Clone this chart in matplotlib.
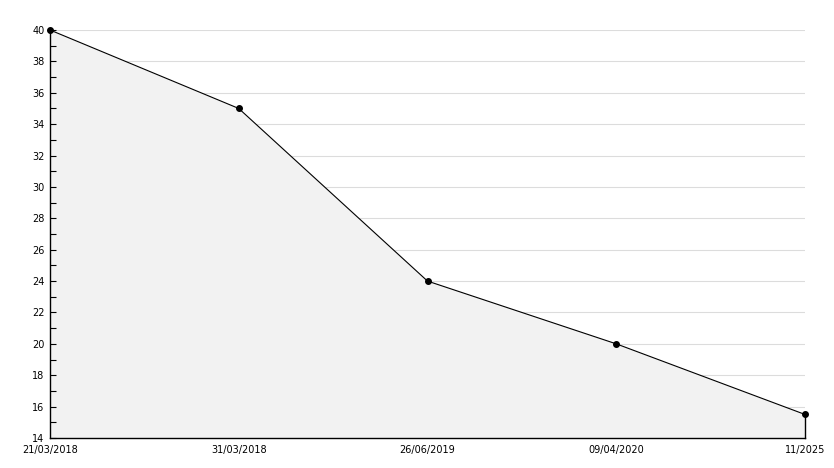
import matplotlib.pyplot as plt
from matplotlib.ticker import MultipleLocator

dates = ["21/03/2018", "31/03/2018", "26/06/2019", "09/04/2020", "11/2025"]
values = [40, 35, 24, 20, 15.5]

ymin, ymax = 14, 40
x = list(range(len(dates)))

fig = plt.figure(figsize=(8.34, 4.68), dpi=100)
ax = fig.add_axes([50 / 834, 30 / 468, 755 / 834, 408 / 468])

ax.set_xlim(x[0], x[-1])
ax.set_ylim(ymin, ymax)
ax.yaxis.set_major_locator(MultipleLocator(2))
ax.yaxis.set_minor_locator(MultipleLocator(1))

# gridlines under the filled area, ticks stay on top
ax.hlines(ax.get_yticks(), x[0], x[-1], color="#dcdcdc", linewidth=0.8, zorder=0.5)

ax.fill_between(x, values, ymin, color="#f2f2f2", zorder=1, linewidth=0)
ax.plot(x, values, color="black", linewidth=0.8, marker="o", markersize=4, zorder=3, clip_on=False)
ax.plot([x[-1], x[-1]], [ymin, values[-1]], color="black", linewidth=1.0, zorder=3, clip_on=False)

ax.set_xticks(x)
ax.set_xticklabels(dates)

for s in ["top", "right"]:
    ax.spines[s].set_visible(False)
for s in ["left", "bottom"]:
    ax.spines[s].set_linewidth(1.0)
    ax.spines[s].set_zorder(4)

ax.tick_params(axis="y", which="both", direction="in", length=4, width=0.8, labelsize=7, pad=4)
ax.tick_params(axis="x", length=0, labelsize=7, pad=5)

fig.savefig("out.png", dpi=100)
